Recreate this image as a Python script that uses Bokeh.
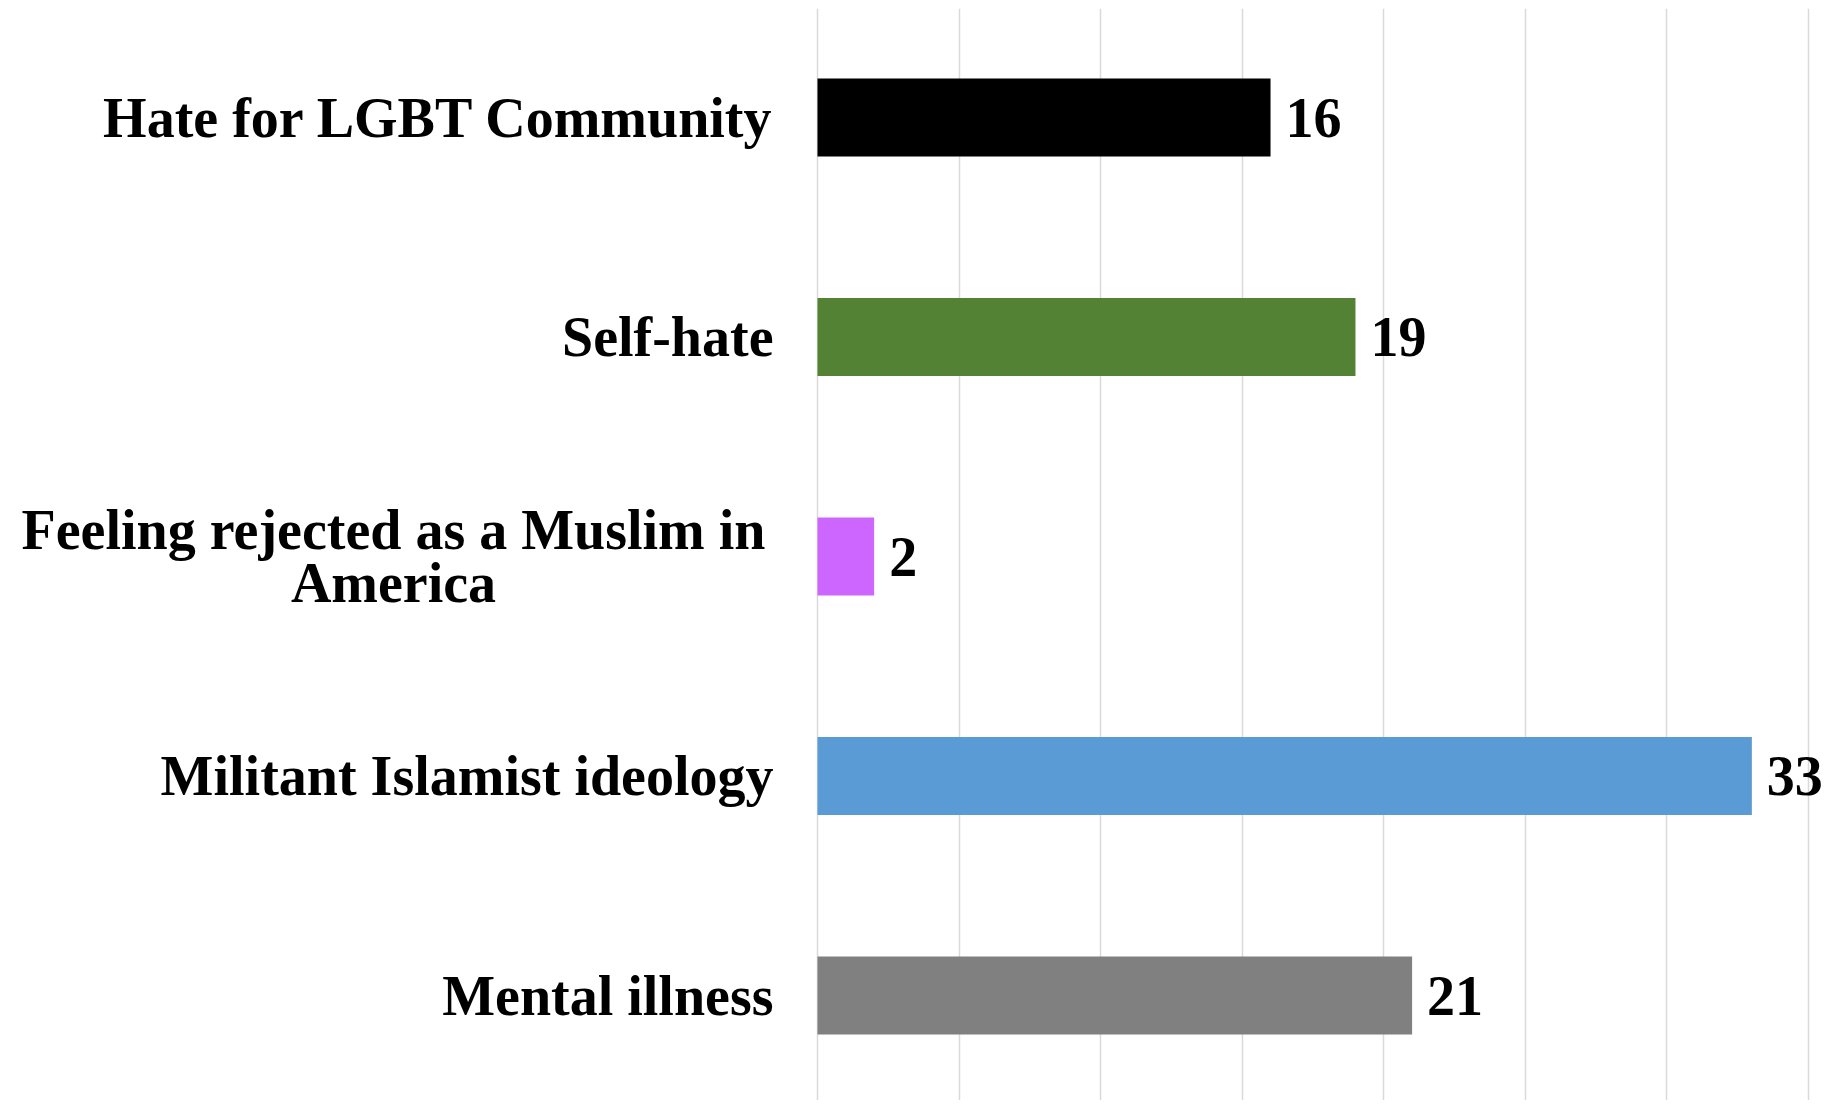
from bokeh.plotting import figure
from bokeh.models import ColumnDataSource, Range1d, FixedTicker
from bokeh.core.properties import value
from bokeh.embed import file_html
from bokeh.resources import INLINE

categories = ["Hate for LGBT Community", "Self-hate",
              "Feeling rejected as a Muslim in\nAmerica",
              "Militant Islamist ideology", "Mental illness"]
values = [16, 19, 2, 33, 21]
colors = ["#000000", "#548235", "#CC66FF", "#5B9BD5", "#808080"]
x_ticks = [0, 5, 10, 15, 20, 25, 30, 35]

W, H = 1833, 1100
AXIS_PX = 817          # where x = 0 sits on the canvas
PX_PER_UNIT = 991 / 35  # scale of the value axis

idx = list(range(len(categories)))
single = [i for i, c in enumerate(categories) if "\n" not in c]
wrapped = [i for i, c in enumerate(categories) if "\n" in c]

src = ColumnDataSource(dict(y=idx, v=values, c=colors, t=[str(v) for v in values]))
src_single = ColumnDataSource(dict(y=single, t=[categories[i] for i in single],
                                   x=[0] * len(single)))
src_wrapped = ColumnDataSource(dict(y=wrapped, t=[categories[i] for i in wrapped],
                                    x=[0] * len(wrapped)))

p = figure(width=W, height=H, output_backend="svg", toolbar_location=None,
           x_range=Range1d(-AXIS_PX / PX_PER_UNIT, (W - AXIS_PX) / PX_PER_UNIT),
           y_range=Range1d(4.478, -0.4966),
           x_axis_location=None, y_axis_location=None,
           min_border_left=0, min_border_right=0, min_border_top=8, min_border_bottom=0)
p.outline_line_color = None
p.background_fill_color = "white"

p.xgrid.ticker = FixedTicker(ticks=x_ticks)
p.xgrid.grid_line_color = "#D9D9D9"
p.xgrid.grid_line_width = 1.5
p.ygrid.grid_line_color = None

p.hbar(y="y", left=0, right="v", height=0.355, fill_color="c", line_color=None, source=src)

font_kw = dict(text_font=value("Liberation Serif"), text_font_style="bold",
               text_font_size="56px", text_color="#000000")

# category labels
p.text(x="x", y="y", text="t", source=src_single, x_offset=-44,
       text_align="right", text_baseline="middle", **font_kw)
p.text(x="x", y="y", text="t", source=src_wrapped, x_offset=393 - AXIS_PX,
       text_align="center", text_baseline="middle", text_line_height=0.85, **font_kw)

# value labels
p.text(x="v", y="y", text="t", source=src, x_offset=15,
       text_align="left", text_baseline="middle", **font_kw)

open("out.html", "w").write(file_html(p, INLINE))
